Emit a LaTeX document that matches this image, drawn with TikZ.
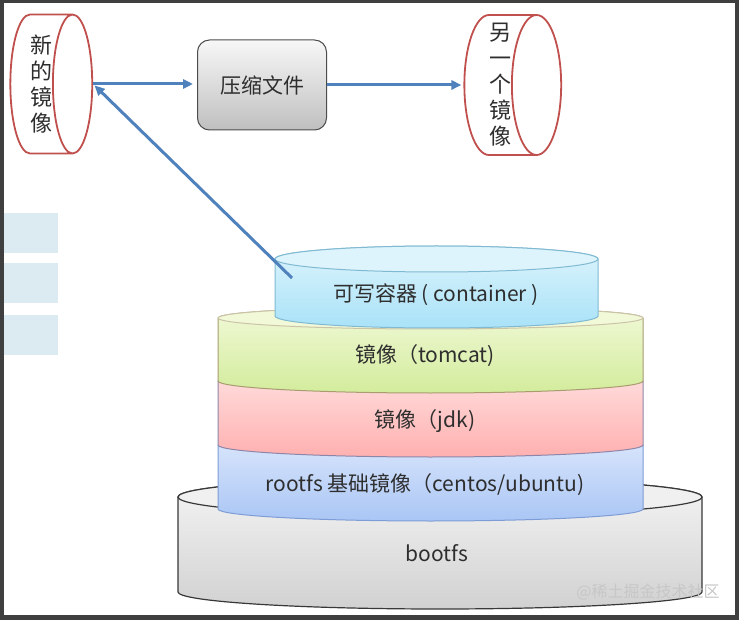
\documentclass[tikz,border=0pt]{standalone}
\usepackage{fontspec}
\setmainfont{Noto Sans CJK SC}
\usetikzlibrary{arrows.meta, positioning, shapes.geometric}

\definecolor{arrowblue}{HTML}{4F81BD}
\definecolor{cylred}{HTML}{C0504D}
\definecolor{inkgray}{HTML}{2E2E2E}
\definecolor{framegray}{HTML}{3F3F3F}
\definecolor{sideblue}{HTML}{DCEAF1}
\definecolor{ctop}{HTML}{DDF4FC}
\definecolor{cbot}{HTML}{A9E2F8}
\definecolor{cedge}{HTML}{80BAD2}
\definecolor{gtop}{HTML}{F1F9D8}
\definecolor{gbot}{HTML}{D3EC9C}
\definecolor{gedge}{HTML}{A89C70}
\definecolor{rtop}{HTML}{FFE0E0}
\definecolor{rbot}{HTML}{FFB0B0}
\definecolor{redge}{HTML}{8E86A8}
\definecolor{btop}{HTML}{DDE8FC}
\definecolor{bbot}{HTML}{AAC6F5}
\definecolor{bedge}{HTML}{7E9CD6}

\begin{document}
\begin{tikzpicture}[x=1pt,y=-1pt,
		imgcyl/.style={cylinder, draw=cylred, line width=1.8pt, fill=white, aspect=0.4,
				text=inkgray, align=center, font=\fontsize{22}{26}\selectfont, inner sep=0pt},
		zipbox/.style={rectangle, rounded corners=12pt, draw=black!70, line width=1pt,
				top color=black!3, bottom color=black!25, text=inkgray,
				font=\fontsize{21}{24}\selectfont, minimum width=129pt, minimum height=90pt},
		flow/.style={draw=arrowblue, line width=3pt, -{Triangle[length=10pt,width=9pt]}},
		lbl/.style={text=inkgray, font=\fontsize{21}{24}\selectfont, inner sep=0pt}]
	\useasboundingbox (0,0) rectangle (739,620);
	\fill[white] (0,0) rectangle (739,620);

	% half hidden boxes on the left
	\fill[sideblue] (0,213) rectangle (58,253);
	\fill[sideblue] (0,263) rectangle (58,303);
	\fill[sideblue] (0,315) rectangle (58,355);

	% top row
	\node[imgcyl, minimum height=81pt, minimum width=139pt] (newimg) at (41,84) {新\\的\\镜\\像};
	\node[zipbox] (zip) at (262,85) {压缩文件};
	\node[imgcyl, minimum height=80pt, minimum width=140pt] (otherimg) at (500,85) {另\\一\\个\\镜\\像};

	\draw[flow, shorten >=4pt] (newimg.east) -- (newimg.east -| zip.west);
	\draw[flow, shorten >=2pt] (zip.east) -- (zip.east -| otherimg.west);

	% bootfs
	\path[draw=black!78, line width=1.2pt, top color=black!4, bottom color=black!18]
		(178,497) -- (178,592) arc[start angle=180, end angle=0, x radius=262, y radius=17]
		-- (702,497) arc[start angle=0, end angle=-180, x radius=262, y radius=19] -- cycle;
	\draw[black!78, line width=1.2pt, fill=black!6] (440,497) ellipse[x radius=262, y radius=19];

	% rootfs
	\path[draw=bedge, line width=1pt, top color=btop, bottom color=bbot]
		(218,445) -- (218,509) arc[start angle=180, end angle=0, x radius=212.5, y radius=12]
		-- (643,445) arc[start angle=0, end angle=-180, x radius=212.5, y radius=12] -- cycle;

	% jdk
	\path[draw=redge, line width=1pt, top color=rtop, bottom color=rbot]
		(218,381) -- (218,445) arc[start angle=180, end angle=0, x radius=212.5, y radius=12]
		-- (643,381) arc[start angle=0, end angle=-180, x radius=212.5, y radius=12] -- cycle;

	% tomcat
	\path[draw=gedge, line width=1pt, top color=gtop, bottom color=gbot]
		(218,318) -- (218,381) arc[start angle=180, end angle=0, x radius=212.5, y radius=12]
		-- (643,318) arc[start angle=0, end angle=-180, x radius=212.5, y radius=11] -- cycle;
	\draw[gedge!60!white, line width=1pt, fill=gtop] (430.5,318) ellipse[x radius=212.5, y radius=11];

	% container
	\path[draw=cedge, line width=1pt, top color=ctop, bottom color=cbot]
		(275,259) -- (275,316) arc[start angle=180, end angle=0, x radius=161.5, y radius=12]
		-- (598,259) arc[start angle=0, end angle=-180, x radius=161.5, y radius=13] -- cycle;
	\draw[cedge, line width=1pt, fill=ctop] (436.5,259) ellipse[x radius=161.5, y radius=13];

	\node[lbl] (container) at (436,295) {可写容器 ( container )};
	\node[lbl] (tomcat) at (425,356) {镜像（tomcat)};
	\node[lbl] (jdk) at (425,421) {镜像（jdk)};
	\node[lbl] (rootfs) at (425,485) {rootfs 基础镜像（centos/ubuntu)};
	\node[lbl] (bootfs) at (437,553) {bootfs};

	\coordinate (tap) at (292,278);
	\draw[flow, shorten >=2pt] (tap) -- (newimg.east);

	\node[text=black!22, font=\fontsize{16}{18}\selectfont] (mark) at (648,592) {@稀土掘金技术社区};

	% dark frame
	\fill[framegray] (0,0) rectangle (739,3);
	\fill[framegray] (0,0) rectangle (4,620);
	\fill[framegray] (735,0) rectangle (739,620);
	\fill[framegray] (0,615) rectangle (739,620);
\end{tikzpicture}
\end{document}
